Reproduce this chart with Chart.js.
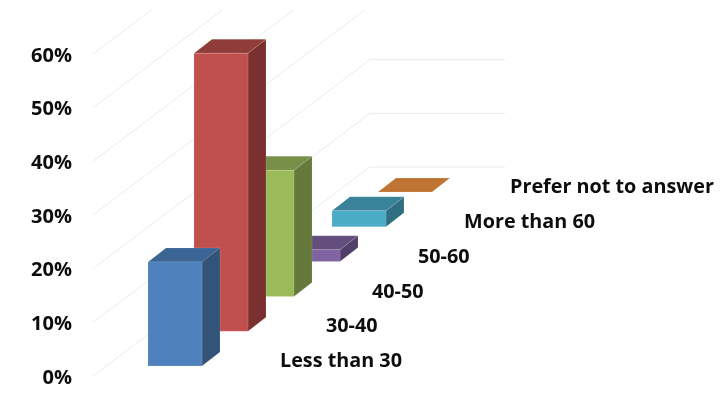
<!DOCTYPE html>
<html>
<head>
<meta charset="utf-8">
<style>
  body { margin: 0; background: #fff; }
</style>
<script src="https://cdn.jsdelivr.net/npm/chart.js@4"></script>
</head>
<body>
<canvas id="myChart" width="727" height="399"></canvas>
<script>
const categories = ['Less than 30', '30-40', '40-50', '50-60', 'More than 60', 'Prefer not to answer'];
const shares = [19.4, 51.8, 23.5, 2.2, 3, 0];
const gridValues = [0, 10, 20, 30, 40, 50, 60];

// front, top and side face of each column
const frontColors = ['#4f81bd', '#c0504d', '#9bbb59', '#8064a2', '#4bacc6', '#f79646'];
const topColors = ['#3b6595', '#8f3c3a', '#788f47', '#634e7e', '#38839a', '#c07434'];
const sideColors = ['#325479', '#7a302e', '#64793a', '#523f69', '#306f82', '#a5612a'];

const labelFont = 'bold 19.8px "Open Sans", sans-serif';

// the fake perspective, in pixels
const stepY = 34.8;        // each category sits this much higher than the one before
const floorY = 10;         // first column stands this far above the axis zero
const depthX = 18;         // depth of a column
const depthY = 14;
const wallLeft = 93;
const wallCornerX = 370;   // side wall meets back wall
const wallCornerY = 209;
const wallRight = 505;
const wallTop = 10;

function face(ctx, color, pts) {
  ctx.beginPath();
  ctx.moveTo(pts[0][0], pts[0][1]);
  pts.slice(1).forEach(p => ctx.lineTo(p[0], p[1]));
  ctx.closePath();
  ctx.fillStyle = color;
  ctx.fill();
  ctx.strokeStyle = 'rgba(255, 255, 255, 0.12)';
  ctx.lineWidth = 1;
  ctx.stroke();
}

const bars3d = {
  id: 'bars3d',
  beforeDatasetsDraw(chart) {
    const {ctx, scales} = chart;

    // side wall and back wall grid lines
    ctx.save();
    ctx.beginPath();
    ctx.rect(0, wallTop, chart.width, chart.height);
    ctx.clip();
    ctx.strokeStyle = '#ebebeb';
    ctx.lineWidth = 1;
    gridValues.forEach(v => {
      const y = scales.y.getPixelForValue(v);
      ctx.beginPath();
      ctx.moveTo(wallLeft, y);
      ctx.lineTo(wallCornerX, y - wallCornerY);
      ctx.lineTo(wallRight, y - wallCornerY);
      ctx.stroke();
    });
    ctx.restore();
  },
  beforeDatasetDraw(chart) {
    const {ctx, scales} = chart;
    const bars = chart.getDatasetMeta(0).data;

    ctx.save();
    // back to front so the nearer columns cover the others
    for (let i = bars.length - 1; i >= 0; i--) {
      const bar = bars[i];
      const lift = floorY + stepY * i;
      const left = bar.x - bar.width / 2;
      const right = bar.x + bar.width / 2;
      const top = bar.y - lift;
      const bottom = bar.base - lift;

      face(ctx, topColors[i], [[left, top], [right, top], [right + depthX, top - depthY], [left + depthX, top - depthY]]);
      if (bottom - top > 0) {
        face(ctx, sideColors[i], [[right, top], [right + depthX, top - depthY], [right + depthX, bottom - depthY], [right, bottom]]);
        face(ctx, frontColors[i], [[left, top], [right, top], [right, bottom], [left, bottom]]);
      }
    }

    // category labels follow the floor back into the picture
    ctx.font = labelFont;
    ctx.fillStyle = '#0d0d0d';
    ctx.textAlign = 'left';
    ctx.textBaseline = 'middle';
    categories.forEach((label, i) => {
      ctx.fillText(label, scales.x.getPixelForValue(i) + 105, bars[i].base - 14.5 - stepY * i);
    });
    ctx.restore();

    return false;
  }
};

new Chart(document.getElementById('myChart'), {
  type: 'bar',
  data: {
    labels: categories,
    datasets: [{
      label: 'Share',
      data: shares,
      backgroundColor: frontColors,
      barThickness: 54
    }]
  },
  options: {
    responsive: false,
    animation: false,
    layout: { padding: { top: 54, bottom: 23, left: 0, right: 299 } },
    plugins: {
      legend: { display: false },
      tooltip: { enabled: false }
    },
    scales: {
      x: {
        grid: { display: false },
        border: { display: false },
        ticks: { display: false },
        afterFit(scale) { scale.height = 0; }
      },
      y: {
        min: 0,
        max: 60,
        grid: { display: false, drawTicks: false },
        border: { display: false },
        // the labels sit far left of the plot, tick padding must not shrink it
        afterFit(scale) {
          scale.width = 152;
          scale.paddingTop = 0;
          scale.paddingBottom = 0;
        },
        ticks: {
          stepSize: 10,
          padding: 80,
          labelOffset: 2,
          color: '#0d0d0d',
          font: { family: '"Open Sans", sans-serif', size: 20, weight: 'bold' },
          callback: v => v + '%'
        }
      }
    }
  },
  plugins: [bars3d]
});
</script>
</body>
</html>
